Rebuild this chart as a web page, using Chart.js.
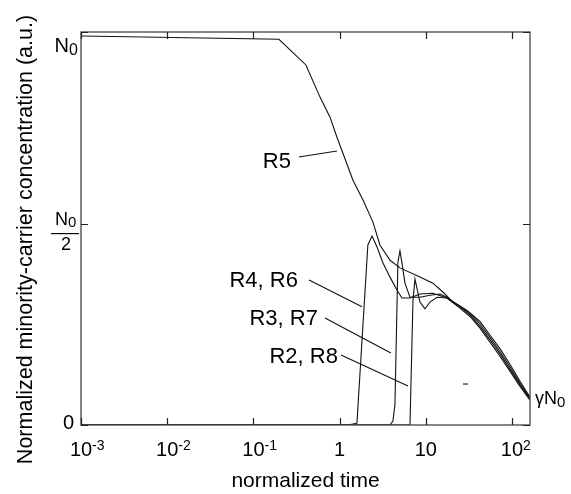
<!DOCTYPE html>
<html>
<head>
<meta charset="utf-8">
<script src="https://cdn.jsdelivr.net/npm/chart.js@4.4.1/dist/chart.umd.min.js"></script>
<style>
  html, body { margin: 0; padding: 0; background: #fff; }
  #wrap { width: 571px; height: 494px; }
</style>
</head>
<body>
<div id="wrap"><canvas id="c" width="571" height="494"></canvas></div>
<script>
// normalized time (log axis) and normalized concentration (fraction of N0)
const R5_T = [0.001, 0.198, 0.407, 0.593, 0.775, 0.933, 1.43, 1.87, 2.44, 2.94, 3.85, 5.02, 8.57, 12.1, 15.8, 20.7, 30.1, 42.6, 55.6, 72.6, 94.8, 124, 162];
const R5_N = [0.968, 0.960, 0.896, 0.816, 0.766, 0.716, 0.609, 0.560, 0.505, 0.448, 0.410, 0.391, 0.368, 0.353, 0.331, 0.306, 0.285, 0.258, 0.224, 0.190, 0.151, 0.109, 0.069];

const R46_T = [0.001, 1.25, 1.59, 2.13, 2.38, 2.72, 3.19, 3.85, 4.63, 5.30, 6.56, 8.57, 12.1, 17.6, 24.9, 32.6, 42.6, 55.6, 72.6, 94.8, 124, 162];
const R46_N = [0, 0, 0.004, 0.448, 0.470, 0.443, 0.403, 0.368, 0.336, 0.316, 0.316, 0.326, 0.328, 0.316, 0.296, 0.278, 0.252, 0.218, 0.183, 0.145, 0.104, 0.067];

const R37_T = [0.001, 3.85, 4.16, 4.39, 4.75, 5.02, 5.30, 5.74, 6.56, 8.57, 11.2, 14.6, 17.6, 24.9, 32.6, 42.6, 55.6, 72.6, 94.8, 124, 162];
const R37_N = [0, 0, 0.01, 0.05, 0.405, 0.433, 0.403, 0.353, 0.318, 0.318, 0.323, 0.326, 0.318, 0.294, 0.274, 0.246, 0.212, 0.177, 0.139, 0.100, 0.064];

const R28_T = [0.001, 6.56, 7.11, 7.50, 8.57, 9.79, 11.2, 13.5, 17.6, 24.9, 32.6, 42.6, 55.6, 72.6, 94.8, 124, 162];
const R28_N = [0, 0, 0.311, 0.363, 0.306, 0.289, 0.306, 0.318, 0.316, 0.291, 0.270, 0.241, 0.206, 0.171, 0.134, 0.096, 0.062];

// axes
const X_MIN = 0.001, X_MAX = 162;
const Y_MIN = 0, Y_MAX = 0.978;
const X_TICKS = [0.001, 0.01, 0.1, 1, 10, 100];
const X_TICK_BASE = ['10', '10', '10', '1', '10', '10'];
const X_TICK_EXP = ['-3', '-2', '-1', '', '', '2'];
const Y_TICKS = [0, 0.5, Y_MAX];

// annotation labels: text, right edge time, baseline conc, leader from/to
const LABELS = [
  { text: 'R5', t: 0.273, n: 0.639, from: [0.338, 0.667], to: [0.933, 0.682] },
  { text: 'R4, R6', t: 0.329, n: 0.343, from: [0.442, 0.361], to: [1.82, 0.294] },
  { text: 'R3, R7', t: 0.561, n: 0.249, from: [0.678, 0.266], to: [3.94, 0.179] },
  { text: 'R2, R8', t: 0.957, n: 0.154, from: [1.04, 0.174], to: [6.22, 0.097] }
];
const STRAY_MARK = { from: [27.0, 0.102], to: [30.9, 0.102] };

const FONT = '"Liberation Sans", Arial, Helvetica, sans-serif';

const zip = (t, n) => t.map((v, i) => ({ x: v, y: n[i] }));

const line = (data) => ({
  data,
  borderColor: '#111',
  borderWidth: 1.1,
  pointRadius: 0,
  tension: 0,
  fill: false
});

const decorations = {
  id: 'decorations',
  afterDraw(chart) {
    const ctx = chart.ctx;
    const a = chart.chartArea;
    const xs = chart.scales.x, ys = chart.scales.y;
    ctx.save();

    // frame
    ctx.strokeStyle = '#444';
    ctx.lineWidth = 1.3;
    ctx.strokeRect(a.left, a.top, a.right - a.left, a.bottom - a.top);

    // inward tick marks
    ctx.strokeStyle = '#222';
    ctx.lineWidth = 1.2;
    ctx.beginPath();
    X_TICKS.forEach(v => {
      const px = Math.round(xs.getPixelForValue(v)) + 0.5;
      ctx.moveTo(px, a.bottom); ctx.lineTo(px, a.bottom - 7);
      ctx.moveTo(px, a.top); ctx.lineTo(px, a.top + 7);
    });
    Y_TICKS.forEach(v => {
      const py = Math.round(ys.getPixelForValue(v)) + 0.5;
      ctx.moveTo(a.left, py); ctx.lineTo(a.left + 7, py);
      ctx.moveTo(a.right, py); ctx.lineTo(a.right - 7, py);
    });
    ctx.stroke();

    ctx.fillStyle = '#000';
    ctx.textBaseline = 'alphabetic';

    // x tick labels
    X_TICKS.forEach((v, i) => {
      const px = xs.getPixelForValue(v);
      ctx.font = '20px ' + FONT;
      ctx.textAlign = 'center';
      ctx.fillText(X_TICK_BASE[i], px, a.bottom + 31);
      if (X_TICK_EXP[i]) {
        const w = ctx.measureText(X_TICK_BASE[i]).width;
        ctx.font = '14px ' + FONT;
        ctx.textAlign = 'left';
        ctx.fillText(X_TICK_EXP[i], px + w / 2, a.bottom + 25);
      }
    });

    // y tick labels
    const y0 = ys.getPixelForValue(0);
    ctx.font = '20px ' + FONT;
    ctx.textAlign = 'right';
    ctx.fillText('0', a.left - 7, y0 + 4);

    const yTop = ys.getPixelForValue(Y_MAX);
    ctx.font = '20px ' + FONT;
    ctx.textAlign = 'right';
    ctx.fillText('N', a.left - 12, yTop + 20);
    ctx.font = '16px ' + FONT;
    ctx.textAlign = 'left';
    ctx.fillText('0', a.left - 12, yTop + 23);

    const yHalf = ys.getPixelForValue(0.5);
    ctx.font = '18px ' + FONT;
    ctx.textAlign = 'right';
    ctx.fillText('N', a.left - 13, yHalf + 1);
    ctx.font = '15px ' + FONT;
    ctx.textAlign = 'left';
    ctx.fillText('0', a.left - 13, yHalf + 3);
    ctx.font = '18px ' + FONT;
    ctx.textAlign = 'center';
    ctx.fillText('2', a.left - 15, yHalf + 26);
    ctx.lineWidth = 1.2;
    ctx.strokeStyle = '#000';
    ctx.beginPath();
    ctx.moveTo(a.left - 30, yHalf + 9.5);
    ctx.lineTo(a.left - 2, yHalf + 9.5);
    ctx.stroke();

    // gamma N0 at the right end
    const yEnd = ys.getPixelForValue(R5_N[R5_N.length - 1]);
    ctx.font = '18px ' + FONT;
    ctx.textAlign = 'left';
    ctx.fillText('\u03b3N', a.right + 5, yEnd + 7);
    const wg = ctx.measureText('\u03b3N').width;
    ctx.font = '15px ' + FONT;
    ctx.fillText('0', a.right + 5 + wg, yEnd + 10);

    // curve labels with leader lines
    ctx.font = '22px ' + FONT;
    ctx.textAlign = 'right';
    ctx.strokeStyle = '#111';
    ctx.lineWidth = 1.1;
    LABELS.forEach(l => {
      ctx.fillText(l.text, xs.getPixelForValue(l.t), ys.getPixelForValue(l.n));
      ctx.beginPath();
      ctx.moveTo(xs.getPixelForValue(l.from[0]), ys.getPixelForValue(l.from[1]));
      ctx.lineTo(xs.getPixelForValue(l.to[0]), ys.getPixelForValue(l.to[1]));
      ctx.stroke();
    });
    ctx.beginPath();
    ctx.moveTo(xs.getPixelForValue(STRAY_MARK.from[0]), ys.getPixelForValue(STRAY_MARK.from[1]));
    ctx.lineTo(xs.getPixelForValue(STRAY_MARK.to[0]), ys.getPixelForValue(STRAY_MARK.to[1]));
    ctx.stroke();

    // axis titles
    ctx.font = '21px ' + FONT;
    ctx.textAlign = 'center';
    ctx.fillText('normalized time', (a.left + a.right) / 2, a.bottom + 62);
    ctx.save();
    ctx.font = '21.5px ' + FONT;
    ctx.translate(32, (a.top + a.bottom) / 2 + 11);
    ctx.rotate(-Math.PI / 2);
    ctx.fillText('Normalized minority-carrier concentration (a.u.)', 0, 0);
    ctx.restore();

    ctx.restore();
  }
};

new Chart(document.getElementById('c'), {
  type: 'line',
  data: {
    datasets: [
      line(zip(R5_T, R5_N)),
      line(zip(R46_T, R46_N)),
      line(zip(R37_T, R37_N)),
      line(zip(R28_T, R28_N))
    ]
  },
  options: {
    responsive: false,
    animation: false,
    devicePixelRatio: 1,
    layout: { padding: { left: 81, right: 41, top: 32, bottom: 69 } },
    plugins: { legend: { display: false }, tooltip: { enabled: false } },
    scales: {
      x: { type: 'logarithmic', min: X_MIN, max: X_MAX, display: false },
      y: { type: 'linear', min: Y_MIN, max: Y_MAX, display: false }
    }
  },
  plugins: [decorations]
});
</script>
</body>
</html>
